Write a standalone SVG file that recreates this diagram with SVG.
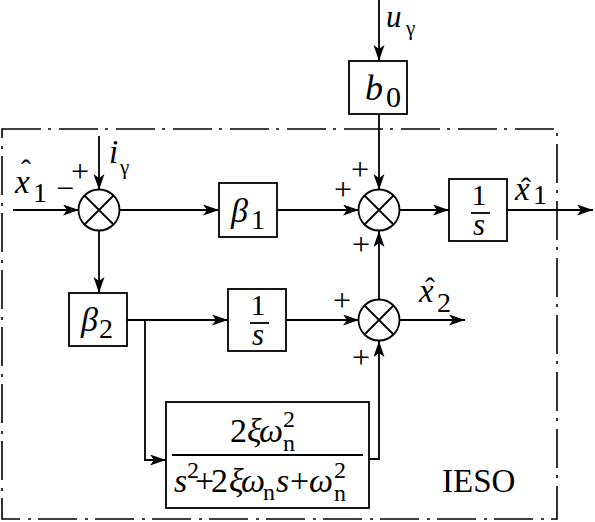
<svg xmlns="http://www.w3.org/2000/svg" width="595" height="522" viewBox="0 0 595 522">
<style>
.ln{stroke:#000;stroke-width:1.8;fill:none}
.box{fill:#fff;stroke:#000;stroke-width:1.8}
.frame{fill:none;stroke:#000;stroke-width:1.6;stroke-dasharray:39 7 3 8}
.t{font-family:"Liberation Serif","Times New Roman",serif;fill:#000}
.i{font-style:italic}
.pm{font-family:"Liberation Serif","Times New Roman",serif;font-size:32px;fill:#000;text-anchor:middle}
.mid{text-anchor:middle}
</style>
<defs>
<marker id="ah" markerUnits="userSpaceOnUse" markerWidth="17" markerHeight="12" refX="16" refY="5.5" orient="auto">
<path d="M0,0 L16,5.5 L0,11 L4,5.5 Z" fill="#000"/>
</marker>
<g id="sumj">
<circle cx="0" cy="0" r="20.5" fill="#fff" stroke="#000" stroke-width="1.8"/>
<path d="M-14.5,-14.5 L14.5,14.5 M-14.5,14.5 L14.5,-14.5" stroke="#000" stroke-width="1.8"/>
</g>
</defs>
<rect fill="#fff" x="0" y="0" width="595" height="522"/>
<rect id="ieso-frame" class="frame" x="2" y="129" width="555" height="390"/>

<g id="connectors">
<path class="ln" d="M13,210 H79" marker-end="url(#ah)"/>
<path class="ln" d="M99,136 V190" marker-end="url(#ah)"/>
<path class="ln" d="M119,210 H219" marker-end="url(#ah)"/>
<path class="ln" d="M99,230 V293" marker-end="url(#ah)"/>
<path class="ln" d="M277,210 H359" marker-end="url(#ah)"/>
<path class="ln" d="M379,0 V61" marker-end="url(#ah)"/>
<path class="ln" d="M379,114 V190" marker-end="url(#ah)"/>
<path class="ln" d="M400,210 H449" marker-end="url(#ah)"/>
<path class="ln" d="M507,210 H593" marker-end="url(#ah)"/>
<path class="ln" d="M127,320 H228" marker-end="url(#ah)"/>
<path class="ln" d="M145,320 V460 H166" marker-end="url(#ah)"/>
<path class="ln" d="M286,320 H359" marker-end="url(#ah)"/>
<path class="ln" d="M379,300 V231" marker-end="url(#ah)"/>
<path class="ln" d="M400,320 H465" marker-end="url(#ah)"/>
<path class="ln" d="M369,459 H379 V341" marker-end="url(#ah)"/>
</g>

<g id="sum1">
<use href="#sumj" x="99" y="210"/>
<text class="pm" x="80" y="182">+</text>
<text class="pm" x="65" y="199">−</text>
</g>
<g id="sum2">
<use href="#sumj" x="379" y="210"/>
<text class="pm" x="360" y="180">+</text>
<text class="pm" x="343" y="200">+</text>
<text class="pm" x="361" y="255">+</text>
</g>
<g id="sum3">
<use href="#sumj" x="379" y="320"/>
<text class="pm" x="342" y="311">+</text>
<text class="pm" x="361" y="368">+</text>
</g>

<g id="beta1">
<rect class="box" x="219" y="183" width="58" height="54"/>
<text class="t"><tspan class="i" x="231" y="222" font-size="34">β</tspan><tspan x="251" y="229" font-size="28">1</tspan></text>
</g>
<g id="beta2">
<rect class="box" x="69" y="293" width="58" height="53"/>
<text class="t"><tspan class="i" x="81" y="331" font-size="34">β</tspan><tspan x="99" y="338" font-size="28">2</tspan></text>
</g>
<g id="b0">
<rect class="box" x="349" y="61" width="58" height="53"/>
<text class="t"><tspan class="i" x="365" y="100" font-size="36">b</tspan><tspan x="386" y="107" font-size="30">0</tspan></text>
</g>
<g id="integ1">
<rect class="box" x="449" y="179" width="58" height="62"/>
<text class="t mid" x="479" y="205" font-size="30">1</text>
<line class="ln" x1="471" y1="213" x2="490" y2="213"/>
<text class="t i mid" x="479" y="235" font-size="31">s</text>
</g>
<g id="integ2">
<rect class="box" x="228" y="289" width="58" height="62"/>
<text class="t mid" x="258" y="315" font-size="30">1</text>
<line class="ln" x1="250" y1="323" x2="269" y2="323"/>
<text class="t i mid" x="258" y="345" font-size="31">s</text>
</g>
<g id="filter">
<rect class="box" x="166" y="402" width="203" height="106"/>
<line class="ln" x1="172" y1="455" x2="363" y2="455"/>
<text class="t" font-size="34">
<tspan x="230" y="442">2</tspan><tspan class="i" x="247" y="442">ξ</tspan><tspan class="i" x="259" y="442">ω</tspan><tspan font-size="24" x="283" y="427">2</tspan><tspan font-size="24" x="283" y="451">n</tspan>
</text>
<text class="t" font-size="34">
<tspan class="i" x="174" y="492">s</tspan><tspan font-size="24" x="187" y="478">2</tspan><tspan x="195" y="492">+</tspan><tspan x="211" y="492">2</tspan><tspan class="i" x="229" y="492">ξ</tspan><tspan class="i" x="241" y="492">ω</tspan><tspan font-size="24" x="263" y="500">n</tspan><tspan class="i" x="276" y="492">s</tspan><tspan x="290" y="492">+</tspan><tspan class="i" x="309" y="492">ω</tspan><tspan font-size="24" x="334" y="478">2</tspan><tspan font-size="24" x="334" y="501">n</tspan>
</text>
</g>

<g id="labels">
<text class="t"><tspan class="i" x="15" y="193" font-size="33">x</tspan><tspan x="33" y="202" font-size="28">1</tspan><tspan x="21" y="180" font-size="30">ˆ</tspan></text>
<text class="t"><tspan class="i" x="109" y="163" font-size="33">i</tspan><tspan x="120" y="174" font-size="21">γ</tspan></text>
<text class="t"><tspan class="i" x="386" y="27" font-size="31">u</tspan><tspan x="406" y="35" font-size="21">γ</tspan></text>
<text class="t"><tspan class="i" x="515" y="200" font-size="33">x</tspan><tspan x="533" y="204" font-size="28">1</tspan><tspan x="521" y="198" font-size="30">ˆ</tspan></text>
<text class="t"><tspan class="i" x="419" y="302" font-size="33">x</tspan><tspan x="437" y="312" font-size="28">2</tspan><tspan x="425" y="298" font-size="30">ˆ</tspan></text>
<text class="t" x="442" y="492" font-size="33">IESO</text>
</g>
</svg>
